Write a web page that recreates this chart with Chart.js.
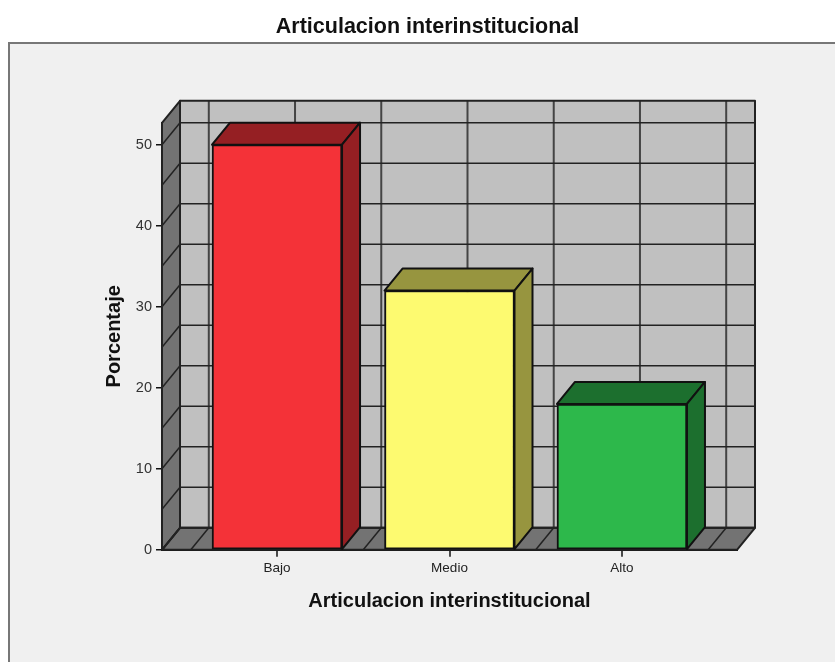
<!DOCTYPE html>
<html><head><meta charset="utf-8">
<style>html,body{margin:0;padding:0;background:#fff}#w{width:835px;height:662px}canvas{display:block}</style>
<script src="https://cdn.jsdelivr.net/npm/chart.js@4/dist/chart.umd.min.js"></script>
</head><body><div id="w"><canvas id="c" width="835" height="662"></canvas></div>
<script>
const chartTitle = 'Articulacion interinstitucional';
const xTitle = 'Articulacion interinstitucional';
const yTitle = 'Porcentaje';
const categories = ['Bajo', 'Medio', 'Alto'];
const values = [50, 32, 18];
const faceColors = ['#f43238', '#fdfa70', '#2db84b'];
const sideColors = ['#951f23', '#97953f', '#1c6f2e'];
const yTickStep = 10;
const wallGridStep = 5;
const yMax = 52.7;
const xMin = -0.667, xMax = 2.667;
const depthX = 18, depthY = 22;
const ink = '#111';

function poly(ctx, pts, fill, stroke, lw) {
  ctx.beginPath();
  pts.forEach((p, i) => i ? ctx.lineTo(p[0], p[1]) : ctx.moveTo(p[0], p[1]));
  ctx.closePath();
  if (fill) { ctx.fillStyle = fill; ctx.fill(); }
  if (stroke) { ctx.strokeStyle = stroke; ctx.lineWidth = lw || 2; ctx.lineJoin = 'round'; ctx.stroke(); }
}
function seg(ctx, a, b, color, lw) {
  ctx.beginPath(); ctx.moveTo(a[0], a[1]); ctx.lineTo(b[0], b[1]);
  ctx.strokeStyle = color; ctx.lineWidth = lw; ctx.stroke();
}
const scene = {
  id: 'scene',
  afterLayout(chart) { chart.titleBlock.left = 20; chart.titleBlock.right = 835; },
  beforeDraw(chart) {
    const c = chart.ctx;
    c.save();
    c.fillStyle = '#fff'; c.fillRect(0, 0, 835, 662);
    c.fillStyle = '#f0f0f0'; c.fillRect(9, 43, 826, 619);
    seg(c, [9, 43], [835, 43], '#777', 2);
    seg(c, [9, 42], [9, 662], '#777', 2);
    c.restore();
  },
  beforeDatasetsDraw(chart) {
    const c = chart.ctx, xs = chart.scales.x, ys = chart.scales.y;
    const L = xs.left, R = xs.right, T = ys.top, B = ys.bottom;
    c.save();
    poly(c, [[L + depthX, T - depthY], [R + depthX, T - depthY], [R + depthX, B - depthY], [L + depthX, B - depthY]], '#c0c0c0');
    poly(c, [[L, T], [L + depthX, T - depthY], [L + depthX, B - depthY], [L, B]], '#737373');
    poly(c, [[L, B], [L + depthX, B - depthY], [R + depthX, B - depthY], [R, B]], '#737373');
    for (let v = -0.5; v <= 2.5; v += 0.5) {
      const x = xs.getPixelForValue(v);
      seg(c, [x + depthX, T - depthY], [x + depthX, B - depthY], '#444', 2);
      seg(c, [x, B], [x + depthX, B - depthY], '#222', 1.5);
    }
    for (let v = 0; v <= yMax; v += wallGridStep) {
      const y = ys.getPixelForValue(v);
      seg(c, [L + depthX, y - depthY], [R + depthX, y - depthY], '#222', 1.5);
      seg(c, [L, y], [L + depthX, y - depthY], '#222', 1.5);
    }
    poly(c, [[L + depthX, T - depthY], [R + depthX, T - depthY], [R + depthX, B - depthY], [L + depthX, B - depthY]], null, '#222', 2);
    poly(c, [[L, T], [L + depthX, T - depthY], [L + depthX, B - depthY], [L, B]], null, '#222', 2);
    poly(c, [[L, B], [L + depthX, B - depthY], [R + depthX, B - depthY], [R, B]], null, '#222', 2);
    chart.getDatasetMeta(0).data.forEach((bar, i) => {
      const p = bar.getProps(['x', 'y', 'base', 'width'], true);
      const l = p.x - p.width / 2, r = p.x + p.width / 2;
      poly(c, [[l, p.y], [l + depthX, p.y - depthY], [r + depthX, p.y - depthY], [r, p.y]], sideColors[i], ink, 2);
      poly(c, [[r, p.y], [r + depthX, p.y - depthY], [r + depthX, p.base - depthY], [r, p.base]], sideColors[i], ink, 2);
    });
    c.restore();
  }
};

new Chart(document.getElementById('c'), {
  type: 'bar',
  data: {
    labels: categories,
    datasets: [{
      label: yTitle,
      data: values.map((v, i) => ({ x: i, y: v })),
      backgroundColor: faceColors,
      borderColor: ink,
      borderWidth: 2,
      borderSkipped: false,
      barThickness: 130
    }]
  },
  options: {
    responsive: false,
    animation: false,
    layout: { padding: { left: 102, right: 98, top: 0, bottom: 49 } },
    plugins: {
      legend: { display: false },
      tooltip: { enabled: false },
      title: { display: true, text: chartTitle, color: '#111', font: { family: 'Liberation Sans', size: 21.5, weight: 'bold' }, padding: { top: 14, bottom: 83 } }
    },
    scales: {
      x: {
        type: 'linear', min: xMin, max: xMax, offset: false,
        afterBuildTicks(s) { s.ticks = categories.map((_, i) => ({ value: i })); },
        afterTickToLabelConversion(s) { s.ticks.forEach((t, i) => { t.label = categories[i]; }); },
        grid: { display: true, offset: false, drawOnChartArea: false, drawTicks: true, tickLength: 7, color: ink, lineWidth: 2, tickColor: ink, tickWidth: 1.5 },
        border: { display: true, color: ink, width: 2 },
        ticks: { autoSkip: false, maxRotation: 0, font: { family: 'Liberation Sans', size: 13.5 }, color: '#222', padding: 3 },
        title: { display: true, text: xTitle, color: '#111', font: { family: 'Liberation Sans', size: 20, weight: 'bold' }, padding: { top: 10, bottom: 0 } }
      },
      y: {
        min: 0, max: yMax,
        afterFit(s) { s.width = 60; },
        grid: { display: true, drawOnChartArea: false, tickLength: 6, color: ink, lineWidth: 1.5 },
        border: { display: true, color: ink, width: 2 },
        ticks: { stepSize: yTickStep, includeBounds: false, font: { family: 'Liberation Sans', size: 14.5 }, color: '#333', padding: 4 },
        title: { display: true, text: yTitle, color: '#111', font: { family: 'Liberation Sans', size: 20, weight: 'bold' }, padding: { top: 0, bottom: 0 } }
      }
    }
  },
  plugins: [scene]
});
</script></body></html>
